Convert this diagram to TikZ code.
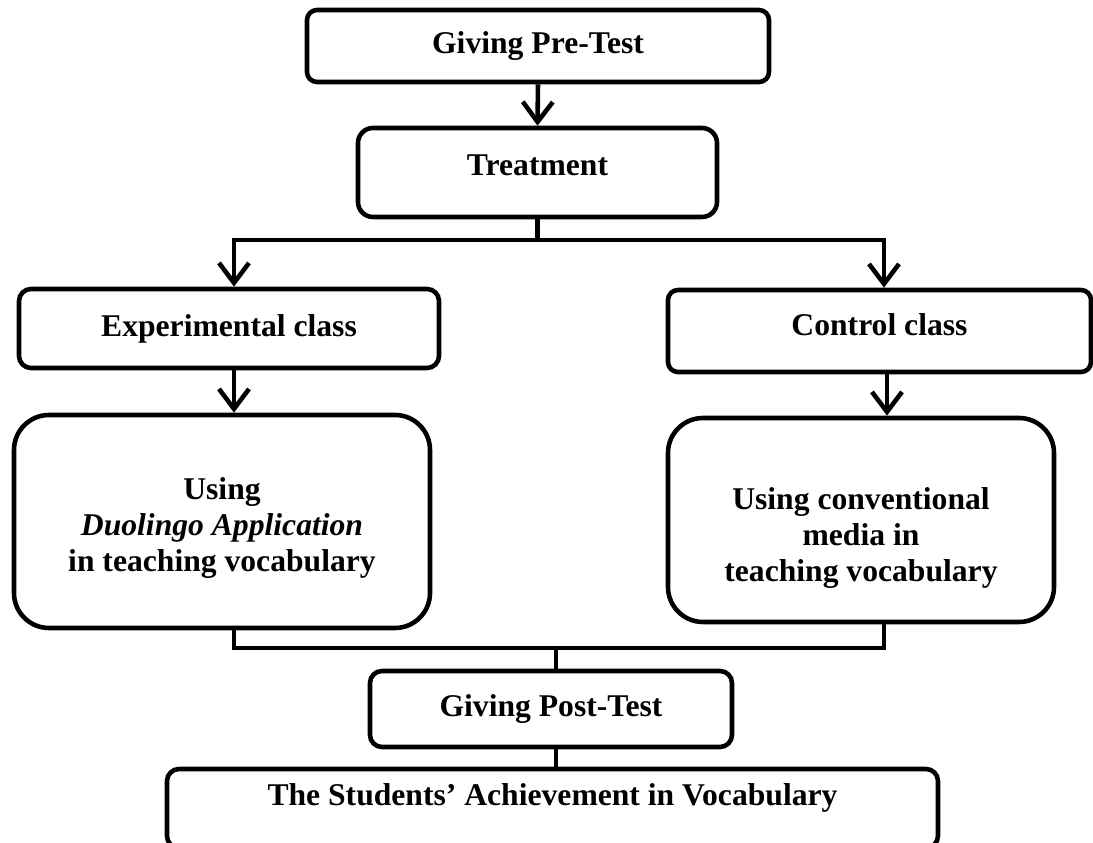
\documentclass[tikz,border=0pt]{standalone}
\usepackage{fontspec}
\setmainfont{Liberation Serif}
\usepackage{tikz}
\usetikzlibrary{arrows.meta}

\begin{document}
\begin{tikzpicture}[
    box/.style={draw,line width=1.3pt,rounded corners=0.12cm,align=center,inner sep=0pt,
        font=\fontsize{9}{10.3}\selectfont\bfseries},
    bigbox/.style={box,rounded corners=0.35cm},
    link/.style={line width=1.3pt},
    arr/.style={link,-{Straight Barb[length=0.2cm,width=0.3cm]}},
]
    \useasboundingbox (0,0) rectangle (10.93,8.43);
    \node[box,minimum width=4.62cm,minimum height=0.72cm,rounded corners=0.1cm] (pretest) at (5.38,7.97) {Giving Pre-Test};
    \node[box,minimum width=3.59cm,minimum height=0.89cm,rounded corners=0.15cm,text height=0.22cm,text depth=0.15cm] (treat) at (5.375,6.705) {Treatment};
    \node[box,minimum width=4.20cm,minimum height=0.79cm] (exp) at (2.29,5.145) {Experimental class};
    \node[box,minimum width=4.23cm,minimum height=0.82cm,rounded corners=0.1cm,text height=0.22cm,text depth=0.13cm] (ctrl) at (8.795,5.12) {Control class};
    \node[bigbox,minimum width=4.16cm,minimum height=2.13cm,text height=1.08cm] (duo) at (2.22,3.215) {Using\\\textit{Duolingo Application}\\in teaching vocabulary};
    \node[bigbox,minimum width=3.86cm,minimum height=2.04cm,text height=1.30cm] (conv) at (8.61,3.23) {Using conventional\\media in\\teaching vocabulary};
    \node[box,minimum width=3.62cm,minimum height=0.76cm] (posttest) at (5.51,1.34) {Giving Post-Test};
    \node[box,minimum width=7.71cm,minimum height=0.79cm,text height=0.22cm,text depth=0.27cm] (achieve) at (5.525,0.345) {The Students’ Achievement in Vocabulary};
    \coordinate (fork) at (treat.south |- 0,6.03);
    \coordinate (join) at (5.56,1.95);
    \draw[arr] (pretest.south) -- (treat.north);
    \draw[arr] (treat.south) -- (fork) -| ([xshift=0.05cm]exp.north);
    \draw[arr] (treat.south) -- (fork) -| ([xshift=0.045cm]ctrl.north);
    \draw[arr] ([xshift=0.05cm]exp.south) -- ([xshift=0.05cm]exp.south |- duo.north);
    \draw[arr] ([xshift=0.075cm]ctrl.south) -- ([xshift=0.075cm]ctrl.south |- conv.north);
    \draw[link] ([xshift=0.12cm]duo.south) |- (join);
    \draw[link] ([xshift=0.23cm]conv.south) |- (join);
    \draw[link] (join) -- (join |- posttest.north);
    \draw[link] (posttest.south -| join) -- (join |- achieve.north);
\end{tikzpicture}
\end{document}
